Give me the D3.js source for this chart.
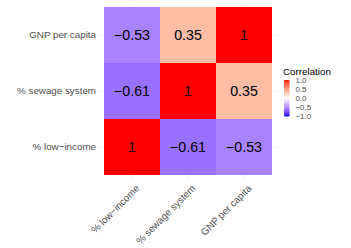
<!DOCTYPE html>
<html lang="en">
<head>
    <meta charset="utf-8">
    <title>Correlation heatmap</title>
    <style>
        body {
            margin: 0;
            background: #fff;
            font-family: "Liberation Sans", Arial, sans-serif;
        }
    </style>
</head>
<body>
    <div id="chart"></div>

    <script src="https://d3js.org/d3.v7.min.js"></script>
    <script>
        // Variables (bottom to top on y, left to right on x)
        const variables = ["% low\u2212income", "% sewage system", "GNP per capita"];

        // Correlation matrix, rows follow variables
        const corrLowIncome = [1, -0.61, -0.53];
        const corrSewage = [-0.61, 1, 0.35];
        const corrGnp = [-0.53, 0.35, 1];

        const legendTicks = [1.0, 0.5, 0.0, -0.5, -1.0];

        const rows = [corrLowIncome, corrSewage, corrGnp];
        const cells = [];
        rows.forEach((row, i) => {
            row.forEach((v, j) => {
                cells.push({ x: variables[j], y: variables[i], value: v });
            });
        });

        const width = 351, height = 248;

        const svg = d3.select("#chart")
            .append("svg")
            .attr("width", width)
            .attr("height", height);

        // Panel with ggplot-style discrete expansion
        const panel = { left: 98.4, right: 277.6, top: 1.4, bottom: 180.6 };

        const x = d3.scaleBand()
            .domain(variables)
            .range([panel.left + 5.6, panel.right - 5.6]);

        const y = d3.scaleBand()
            .domain(variables.slice().reverse())
            .range([panel.top + 5.6, panel.bottom - 5.6]);

        // Diverging fill (blue - white - red), interpolated in Lab space
        const fillLow = d3.scaleLinear().domain([-1, 0]).range(["blue", "white"]).interpolate(d3.interpolateLab);
        const fillHigh = d3.scaleLinear().domain([0, 1]).range(["white", "red"]).interpolate(d3.interpolateLab);
        const fill = v => (v < 0 ? fillLow(v) : fillHigh(v));

        const fmt = v => (v === 1 ? "1" : d3.format(".2f")(v).replace("-", "\u2212"));

        // Grid lines
        const grid = svg.append("g")
            .attr("stroke", "#ebebeb")
            .attr("stroke-width", 0.6);

        grid.selectAll("line.vx")
            .data(variables)
            .join("line")
            .attr("x1", d => x(d) + x.bandwidth() / 2)
            .attr("x2", d => x(d) + x.bandwidth() / 2)
            .attr("y1", panel.top)
            .attr("y2", panel.bottom);

        grid.selectAll("line.hy")
            .data(variables)
            .join("line")
            .attr("y1", d => y(d) + y.bandwidth() / 2)
            .attr("y2", d => y(d) + y.bandwidth() / 2)
            .attr("x1", panel.left)
            .attr("x2", panel.right);

        // Tiles
        svg.append("g")
            .selectAll("rect")
            .data(cells)
            .join("rect")
            .attr("x", d => x(d.x))
            .attr("y", d => y(d.y))
            .attr("width", x.bandwidth())
            .attr("height", y.bandwidth())
            .attr("fill", d => fill(d.value));

        // Tile labels
        svg.append("g")
            .selectAll("text")
            .data(cells)
            .join("text")
            .attr("x", d => x(d.x) + x.bandwidth() / 2)
            .attr("y", d => y(d.y) + y.bandwidth() / 2)
            .attr("dy", "0.36em")
            .attr("text-anchor", "middle")
            .attr("font-size", "14.2px")
            .attr("fill", "#000")
            .text(d => fmt(d.value));

        // Y axis labels
        svg.append("g")
            .selectAll("text")
            .data(variables)
            .join("text")
            .attr("x", panel.left - 2.4)
            .attr("y", d => y(d) + y.bandwidth() / 2)
            .attr("dy", "0.35em")
            .attr("text-anchor", "end")
            .attr("font-size", "9.8px")
            .attr("fill", "#4d4d4d")
            .text(d => d);

        // X axis labels, rotated 45 degrees
        svg.append("g")
            .selectAll("text")
            .data(variables)
            .join("text")
            .attr("transform", d => `translate(${x(d) + x.bandwidth() / 2 + 8},${panel.bottom + 8.4}) rotate(-45)`)
            .attr("text-anchor", "end")
            .attr("font-size", "9.8px")
            .attr("fill", "#4d4d4d")
            .text(d => d);

        // Legend
        const legend = svg.append("g").attr("transform", "translate(283,0)");

        legend.append("text")
            .attr("x", 0)
            .attr("y", 74.5)
            .attr("font-size", "9.8px")
            .attr("fill", "#000")
            .text("Correlation");

        const barTop = 80, barBottom = 116.5, barW = 5.6;
        const ly = d3.scaleLinear().domain([1, -1]).range([barTop, barBottom]);

        const defs = svg.append("defs");
        const grad = defs.append("linearGradient")
            .attr("id", "corr-grad")
            .attr("x1", 0).attr("y1", 1)
            .attr("x2", 0).attr("y2", 0);
        d3.range(-1, 1.0001, 0.1).forEach(v => {
            grad.append("stop")
                .attr("offset", ((v + 1) / 2 * 100) + "%")
                .attr("stop-color", fill(v));
        });

        legend.append("rect")
            .attr("x", 1)
            .attr("y", barTop)
            .attr("width", barW)
            .attr("height", barBottom - barTop)
            .attr("fill", "url(#corr-grad)");

        // Colorbar ticks
        const tickG = legend.append("g").attr("stroke", "#fff").attr("stroke-width", 0.5);
        legendTicks.forEach(t => {
            tickG.append("line")
                .attr("x1", 1).attr("x2", 2.1)
                .attr("y1", ly(t)).attr("y2", ly(t));
            tickG.append("line")
                .attr("x1", 1 + barW - 1.1).attr("x2", 1 + barW)
                .attr("y1", ly(t)).attr("y2", ly(t));
        });

        legend.append("g")
            .selectAll("text")
            .data(legendTicks)
            .join("text")
            .attr("x", 12.5)
            .attr("y", d => ly(d))
            .attr("dy", "0.35em")
            .attr("font-size", "7.9px")
            .attr("fill", "#4d4d4d")
            .text(d => d3.format(".1f")(d).replace("-", "\u2212"));
    </script>
</body>
</html>
